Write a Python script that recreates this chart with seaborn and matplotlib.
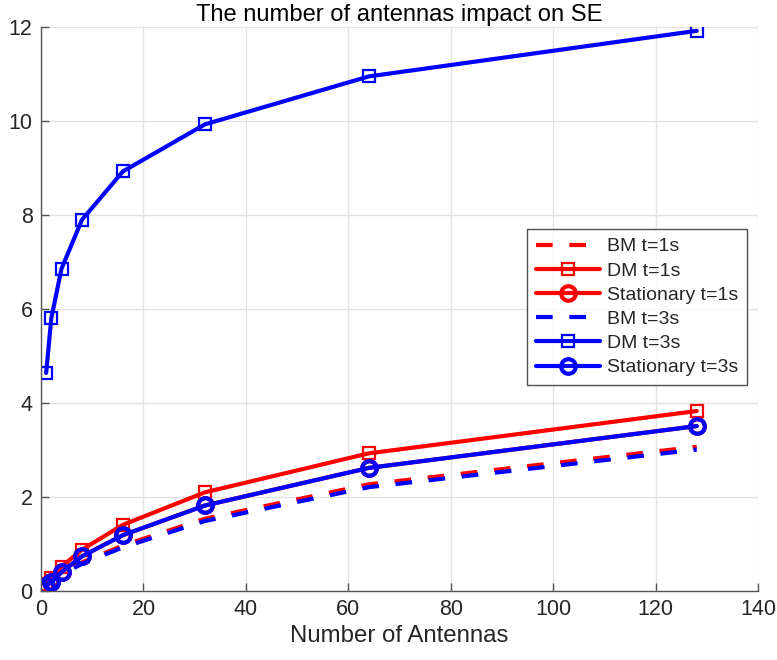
import numpy as np
import pandas as pd
import seaborn as sns
import matplotlib
matplotlib.use("Agg")
import matplotlib.pyplot as plt

antennas = [1, 2, 4, 8, 16, 32, 64, 128]
bm_t1 = [0.12, 0.22, 0.38, 0.61, 0.97, 1.54, 2.27, 3.07]
dm_t1 = [0.14, 0.28, 0.52, 0.88, 1.41, 2.10, 2.93, 3.83]
stat_t1 = [0.10, 0.20, 0.40, 0.74, 1.19, 1.82, 2.62, 3.51]
bm_t3 = [0.11, 0.20, 0.35, 0.58, 0.93, 1.49, 2.21, 3.01]
dm_t3 = [4.64, 5.80, 6.86, 7.90, 8.93, 9.93, 10.95, 11.92]
stat_t3 = [0.10, 0.20, 0.40, 0.74, 1.19, 1.82, 2.62, 3.51]

series = [
    ("BM t=1s", bm_t1, "red", (0, (4, 4)), None),
    ("DM t=1s", dm_t1, "red", "-", "s"),
    ("Stationary t=1s", stat_t1, "red", "-", "o"),
    ("BM t=3s", bm_t3, "blue", (0, (4, 4)), None),
    ("DM t=3s", dm_t3, "blue", "-", "s"),
    ("Stationary t=3s", stat_t3, "blue", "-", "o"),
]

sns.set_style("white")
plt.rcParams["font.family"] = ["Liberation Sans", "DejaVu Sans"]

fig = plt.figure(figsize=(7.77, 6.6), dpi=100)
ax = fig.add_axes([0.0528, 0.1045, 0.923, 0.8545])

for name, vals, color, ls, marker in series:
    df = pd.DataFrame({"x": antennas, "y": vals})
    kw = {}
    if marker == "s":
        kw = dict(marker="s", markersize=8, markerfacecolor="none",
                  markeredgecolor=color, markeredgewidth=1.6)
    elif marker == "o":
        kw = dict(marker="o", markersize=10.5, markerfacecolor="none",
                  markeredgecolor=color, markeredgewidth=3)
    sns.lineplot(data=df, x="x", y="y", ax=ax, color=color, linestyle=ls,
                 linewidth=3, label=name, **kw)

ax.set_xlim(0, 140)
ax.set_ylim(0, 12)
ax.set_xticks(np.arange(0, 141, 20))
ax.set_yticks(np.arange(0, 13, 2))
ax.grid(True, color="#e3e3e3", linewidth=1)
for s in ["top", "right"]:
    ax.spines[s].set_visible(False)
for s in ["left", "bottom"]:
    ax.spines[s].set_color("#555555")
    ax.spines[s].set_linewidth(1)
ax.tick_params(direction="in", length=6, width=1, color="#555555",
               labelsize=15.5, labelcolor="#262626", left=True, bottom=True, pad=6)
ax.set_xlabel("Number of Antennas", fontsize=17.3, color="#262626", labelpad=3)
ax.set_ylabel("")
ax.set_title("The number of antennas impact on SE", fontsize=17.1, color="black", pad=4.5)

leg = ax.legend(loc="upper right", bbox_to_anchor=(747/777, 1 - 229/660),
                bbox_transform=fig.transFigure, fontsize=14,
                frameon=True, fancybox=False, handlelength=3.3,
                handletextpad=0.36, borderpad=0.45, labelspacing=0.34,
                borderaxespad=0)
leg.get_frame().set_edgecolor("#262626")
leg.get_frame().set_linewidth(1)

fig.savefig("out.png", dpi=100)
